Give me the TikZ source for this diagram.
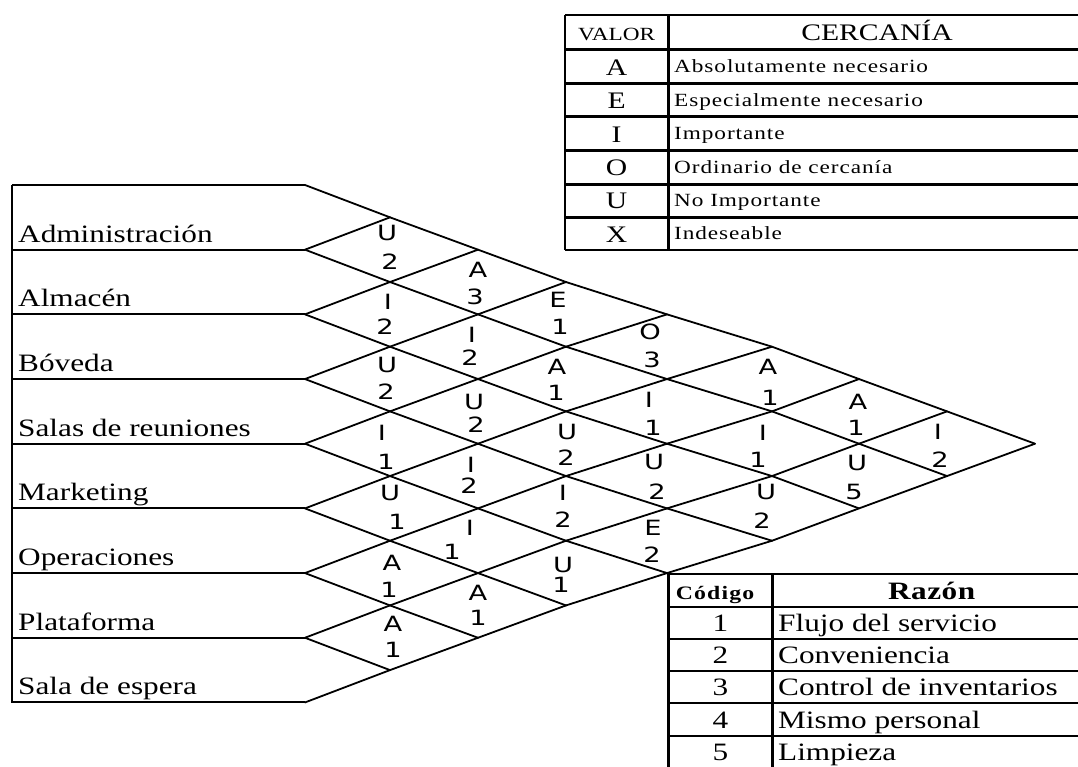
\documentclass[tikz,border=0pt]{standalone}
\usepackage{fontspec}
\newfontfamily\serifw[FakeStretch=1.25]{Liberation Serif}
\newfontfamily\serifsp[FakeStretch=1.25,LetterSpace=5]{Liberation Serif}
\newfontfamily\serifbold[FakeStretch=1.25,LetterSpace=6]{Liberation Serif Bold}
\newfontfamily\sansw[FakeStretch=1.3]{DejaVu Sans}
\begin{document}
\begin{tikzpicture}[x=1pt,y=-1pt,
  gridline/.style={line width=1.8pt, line cap=round, line join=round},
  rowline/.style={line width=2.1pt},
  frame/.style={line width=2.6pt},
  rowlbl/.style={anchor=base west, inner sep=0pt, font=\serifw\fontsize{25}{25}\selectfont},
  code/.style={inner sep=0pt, anchor=center, font=\sansw\fontsize{21}{21}\selectfont},
  headsmall/.style={anchor=base, inner sep=0pt, font=\serifw\fontsize{18.6}{18.6}\selectfont},
  headbig/.style={anchor=base, inner sep=0pt, font=\serifw\fontsize{23.7}{23.7}\selectfont},
  valletter/.style={anchor=base, inner sep=0pt, font=\serifw\fontsize{23.7}{23.7}\selectfont},
  valdesc/.style={anchor=base west, inner sep=0pt, font=\serifsp\fontsize{18.6}{18.6}\selectfont},
  codehead/.style={anchor=base, inner sep=0pt, font=\serifbold\fontsize{19}{19}\selectfont},
  reasonhead/.style={anchor=base, inner sep=0pt, font=\serifbold\addfontfeatures{LetterSpace=2}\fontsize{25}{25}\selectfont},
  reasonnum/.style={anchor=base, inner sep=0pt, font=\serifw\fontsize{25}{25}\selectfont},
  reasontext/.style={anchor=base west, inner sep=0pt, font=\serifw\fontsize{25}{25}\selectfont}
]
\useasboundingbox (0,0) rectangle (1078,767);
\fill[white] (0,0) rectangle (1078,767);

% ---------- lattice vertices of the relationship chart ----------
\def\colx{{305,390,478,566,667,772,859,947,1035}}
\foreach \j in {0,...,8}{
  \foreach \m in {0,...,16}{
    \pgfmathsetmacro\xx{\colx[\j]}
    \coordinate (v-\j-\m) at (\xx,185+32.34*\m);
  }
}

% ---------- department rows ----------
\coordinate (lt) at (12,185);
\coordinate (lb) at (12,702.7);
\foreach \k in {0,...,8}{
  \pgfmathtruncatemacro\mm{2*\k}
  \draw[rowline] (12,185+64.68*\k) -- (v-0-\mm);
}
\draw[frame] (lt) -- (lb);

% lines running down to the right
\foreach \k in {0,...,7}{
  \pgfmathtruncatemacro\n{8-\k}
  \foreach \i in {1,...,\n}{
    \pgfmathtruncatemacro\a{\i-1}
    \pgfmathtruncatemacro\ma{2*\k+\i-1}
    \pgfmathtruncatemacro\mb{2*\k+\i}
    \draw[gridline] (v-\a-\ma) -- (v-\i-\mb);
  }
}
% lines running up to the right
\foreach \k in {1,...,8}{
  \foreach \i in {1,...,\k}{
    \pgfmathtruncatemacro\a{\i-1}
    \pgfmathtruncatemacro\ma{2*\k-\i+1}
    \pgfmathtruncatemacro\mb{2*\k-\i}
    \draw[gridline] (v-\a-\ma) -- (v-\i-\mb);
  }
}

% department names
\foreach \name [count=\k] in {Administración,Almacén,Bóveda,Salas de reuniones,Marketing,Operaciones,Plataforma,Sala de espera}{
  \node[rowlbl] (dept\k) at (18,185+64.68*\k-7.6) {\name};
}

% closeness value and reason in each cell
\foreach \x/\y/\t [count=\n] in {
  387/233/U, 390/262/2, 388/302/I, 385/327/2, 387/365/U, 386/392/2,
  382/433/I, 386/462/1, 390/493/U, 397/522/1, 392/563/A, 389/590/1,
  393/624/A, 393/650/1,
  478/270/A, 475/297/3, 472/335/I, 470/358/2, 474/402/U, 476/425/2,
  471/465/I, 469/486/2, 470/528/I, 452/552/1, 478/593/A, 478/618/1,
  558/300/E, 560/327/1, 557/367/A, 556/393/1, 567/432/U, 566/458/2,
  563/493/I, 563/520/2, 563/565/U, 561/585/1,
  650/332/O, 652/360/3, 649/400/I, 653/428/1, 654/462/U, 657/492/2,
  653/528/E, 652/555/2,
  768/367/A, 770/398/1, 763/433/I, 758/460/1, 766/492/U, 762/521/2,
  858/402/A, 856/428/1, 857/463/U, 854/492/5,
  938/432/I, 940/460/2}{
  \node[code] (cell\n) at (\x,\y) {\t};
}

% ---------- closeness legend ----------
\foreach \y in {15,49.3,83.3,116.7,150.7,184.3,217.7,250}{
  \draw[frame] (565,\y) -- (1079,\y);
}
\draw[frame] (565,15) -- (565,250);
\draw[frame] (668.3,15) -- (668.3,250);
\node[headsmall] (valhead) at (616.6,40.7) {VALOR};
\node[headbig] (cerhead) at (877,40.7) {CERCANÍA};
\foreach \l/\d [count=\r] in {A/Absolutamente necesario,E/Especialmente necesario,I/Importante,O/Ordinario de cercanía,U/No Importante,X/Indeseable}{
  \node[valletter] (val\r) at (616.6,49.3+33.45*\r-7.6) {\l};
  \node[valdesc] (desc\r) at (674,49.3+33.45*\r-10) {\d};
}

% ---------- reasons legend ----------
\foreach \y in {574,607,639,671,703,736}{
  \draw[frame] (668.3,\y) -- (1079,\y);
}
\draw[frame] (668.3,574) -- (668.3,768);
\draw[frame] (772.7,574) -- (772.7,768);
\node[codehead] (codhead) at (715,599.4) {Código};
\node[reasonhead] (razhead) at (931.7,599.4) {Razón};
\foreach \num/\txt/\b in {1/Flujo del servicio/631.4,2/Conveniencia/663.4,3/Control de inventarios/695.4,4/Mismo personal/728.4,5/Limpieza/760}{
  \node[reasonnum] (rnum\num) at (720.5,\b) {\num};
  \node[reasontext] (rtxt\num) at (778,\b) {\txt};
}
\end{tikzpicture}
\end{document}
